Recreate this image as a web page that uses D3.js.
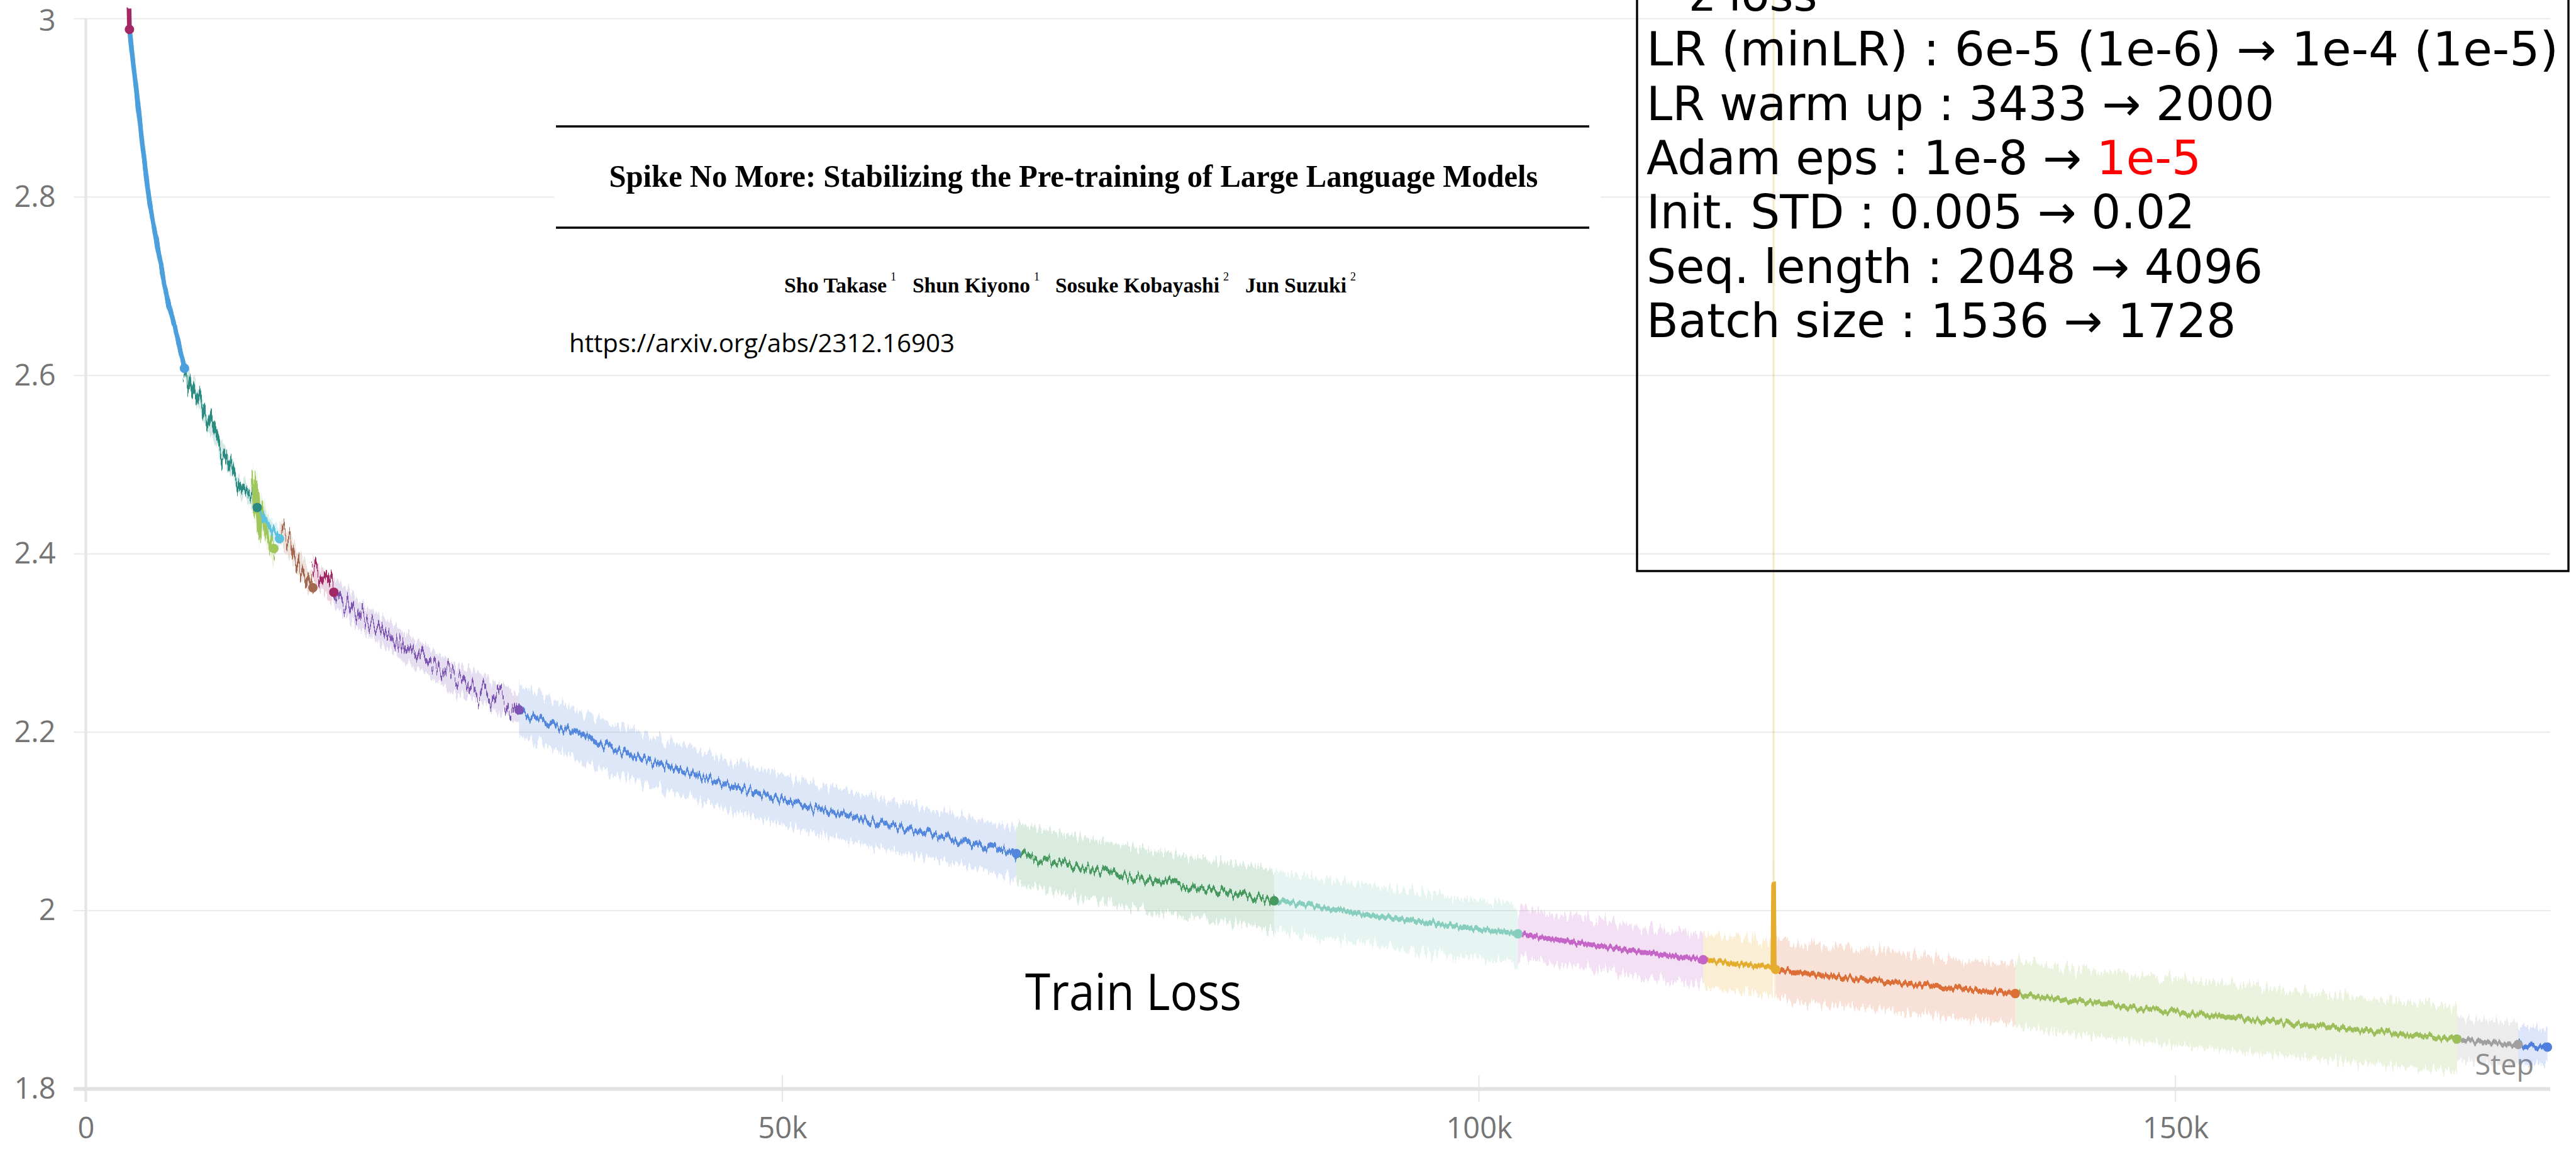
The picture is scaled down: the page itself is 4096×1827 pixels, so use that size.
<!DOCTYPE html>
<html>
<head>
<meta charset="utf-8">
<script src="https://cdn.jsdelivr.net/npm/d3@7"></script>
<style>
  body { margin: 0; background: #fff; }
  svg { display: block; }
</style>
</head>
<body>
<div id="chart"></div>
<script>
const width = 4096;
const height = 1827;

// axes
const xTicks = [0, 50, 100, 150];
const xTickLabels = ["0", "50k", "100k", "150k"];
const yTicks = [1.8, 2, 2.2, 2.4, 2.6, 2.8, 3];
const yTickLabels = ["1.8", "2", "2.2", "2.4", "2.6", "2.8", "3"];
const stepMax = 176.9; // k steps at right edge

// run segments, [step (k), smoothed train loss]
const segPoints = [
  [[3.10, 3.012], [3.13, 2.988]],
  [[3.13, 2.988], [3.2, 2.979], [3.65, 2.916], [4.1, 2.853], [4.53, 2.800], [5.12, 2.748], [5.85, 2.685], [6.43, 2.652], [7.08, 2.608]],
  [[7.08, 2.608], [7.9, 2.580], [8.78, 2.547], [9.95, 2.509], [11.1, 2.476], [12.3, 2.452]],
  [[12.0, 2.484], [12.15, 2.447], [12.3, 2.476], [12.45, 2.425], [12.6, 2.45], [13.0, 2.425], [13.5, 2.406]],
  [[12.6, 2.445], [12.73, 2.438], [13.3, 2.428], [13.9, 2.417]],
  [[13.9, 2.424], [14.6, 2.41], [15.4, 2.388], [16.3, 2.362]],
  [[16.3, 2.384], [17.0, 2.37], [17.8, 2.357]],
  [[17.8, 2.357], [20.0, 2.327], [22.9, 2.296], [25.8, 2.267], [28.75, 2.244], [31.1, 2.225]],
  [[31.1, 2.225], [36.1, 2.192], [40.8, 2.166], [46.25, 2.140], [51.7, 2.117], [57.6, 2.096], [63.4, 2.077], [66.8, 2.064]],
  [[66.8, 2.064], [71.2, 2.049], [77.1, 2.032], [85.3, 2.011]],
  [[85.3, 2.011], [89.5, 2.002], [94.0, 1.991], [98.5, 1.982], [102.8, 1.974]],
  [[102.8, 1.974], [107.0, 1.964], [111.5, 1.954], [116.1, 1.945]],
  [[116.1, 1.945], [118.6, 1.940], [121.1, 1.936], [121.15, 2.03], [121.2, 1.935], [121.3, 1.934]],
  [[121.3, 1.934], [126.0, 1.925], [132.0, 1.916], [138.5, 1.907]],
  [[138.5, 1.907], [143.1, 1.898], [150.0, 1.886], [160.0, 1.871], [170.2, 1.856]],
  [[170.2, 1.856], [172.5, 1.852], [174.6, 1.850]],
  [[174.6, 1.850], [175.6, 1.848], [176.7, 1.847]]
];
// half width of the min/max band of each segment (loss units)
const segSpread = [0.004, 0.004, 0.009, 0.02, 0.01, 0.012, 0.012, 0.016, 0.028, 0.034, 0.033, 0.028, 0.03, 0.033, 0.037, 0.024, 0.02];
// raw max of the loss spike: [step (k), from, to]
const spikeBand = [121.15, 2.03, 3.03];

const segColors = ["#a12864", "#4a9fdc", "#2a8c80", "#a0c75c", "#5cc2df", "#a46750", "#a12864", "#7d54b2",
  "#5387dd", "#479a5f", "#87cebf", "#c565c7", "#e5ad2f", "#dc6f38", "#9dbf5b", "#a0a0a0", "#4f7fdf"];
const segJag = ["jagS", "jagS", "jagL", "jagL", "jagM", "jagL", "jagL", "jagL",
  "jagM", "jagM", "jagS", "jagS", "jagS", "jagS", "jagS", "jagS", "jagS"];

const paperTitle = "Spike No More: Stabilizing the Pre-training of Large Language Models";
const authorNames = ["Sho Takase", "Shun Kiyono", "Sosuke Kobayashi", "Jun Suzuki"];
const authorAffils = ["1", "1", "2", "2"];
const paperUrl = "https://arxiv.org/abs/2312.16903";
const boxLines = [
  ["LR (minLR) : 6e-5 (1e-6) \u2192 1e-4 (1e-5)", ""],
  ["LR warm up : 3433 \u2192 2000", ""],
  ["Adam eps : 1e-8 \u2192 ", "1e-5"],
  ["Init. STD : 0.005 \u2192 0.02", ""],
  ["Seq. length : 2048 \u2192 4096", ""],
  ["Batch size : 1536 \u2192 1728", ""]
];

const svg = d3.select("#chart")
  .append("svg")
  .attr("width", width)
  .attr("height", height);

// jagged look of the noisy runs
const defs = svg.append("defs");
function jagFilter(id, freq, scale, seed) {
  const f = defs.append("filter")
    .attr("id", id)
    .attr("filterUnits", "userSpaceOnUse")
    .attr("x", 0).attr("y", 0).attr("width", width).attr("height", height)
    .attr("color-interpolation-filters", "sRGB");
  f.append("feTurbulence")
    .attr("type", "fractalNoise")
    .attr("baseFrequency", freq)
    .attr("numOctaves", 2)
    .attr("seed", seed)
    .attr("result", "noise");
  f.append("feColorMatrix")
    .attr("in", "noise")
    .attr("type", "matrix")
    .attr("values", "0 0 0 0 0.5  0 1 0 0 0  0 0 0 0 0  0 0 0 0 1")
    .attr("result", "disp");
  f.append("feDisplacementMap")
    .attr("in", "SourceGraphic")
    .attr("in2", "disp")
    .attr("scale", scale)
    .attr("xChannelSelector", "R")
    .attr("yChannelSelector", "G");
}
jagFilter("jagS", "0.22 0.004", 16, 3);
jagFilter("jagM", "0.22 0.004", 30, 5);
jagFilter("jagL", "0.2 0.004", 80, 8);
jagFilter("jagBand", "0.25 0.003", 40, 11);

const x = d3.scaleLinear()
  .domain([0, stepMax])
  .range([136.5, 4055]);

const y = d3.scaleLinear()
  .domain([1.8, 3])
  .range([1731.6, 29.7]);

// gridlines
svg.append("g")
  .selectAll("line")
  .data(yTicks.filter(d => d !== 1.8))
  .enter()
  .append("line")
  .attr("x1", 117)
  .attr("x2", x.range()[1])
  .attr("y1", d => y(d))
  .attr("y2", d => y(d))
  .attr("stroke", "#ebebeb")
  .attr("stroke-width", 2);

// y axis line
svg.append("line")
  .attr("x1", x(0)).attr("x2", x(0))
  .attr("y1", y(3)).attr("y2", 1752)
  .attr("stroke", "#e6e6e6")
  .attr("stroke-width", 4.5);

// x tick marks
svg.append("g")
  .selectAll("line")
  .data(xTicks.filter(d => d > 0))
  .enter()
  .append("line")
  .attr("x1", d => x(d)).attr("x2", d => x(d))
  .attr("y1", 1710).attr("y2", 1752)
  .attr("stroke", "#e6e6e6")
  .attr("stroke-width", 2);

// bottom axis line
svg.append("line")
  .attr("x1", 117).attr("x2", x.range()[1])
  .attr("y1", y(1.8)).attr("y2", y(1.8))
  .attr("stroke", "#e2e2e2")
  .attr("stroke-width", 6);

const yAxis = svg.append("g")
  .attr("transform", `translate(${x(0)},0)`)
  .call(d3.axisLeft(y).tickValues(yTicks).tickSize(0).tickPadding(48)
    .tickFormat((d, i) => yTickLabels[i]));
yAxis.select(".domain").remove();
yAxis.selectAll("text")
  .attr("font-family", "'Open Sans', sans-serif")
  .attr("font-size", 47)
  .attr("fill", "#747474");
// keep the top label inside the picture
yAxis.selectAll(".tick")
  .filter(d => d === 3)
  .select("text")
  .attr("y", 4);

const xAxis = svg.append("g")
  .attr("transform", `translate(0,${y(1.8)})`)
  .call(d3.axisBottom(x).tickValues(xTicks).tickSize(0).tickPadding(45)
    .tickFormat((d, i) => xTickLabels[i]));
xAxis.select(".domain").remove();
xAxis.selectAll("text")
  .attr("font-family", "'Open Sans', sans-serif")
  .attr("font-size", 47)
  .attr("fill", "#747474");

svg.append("text")
  .attr("x", 4029)
  .attr("y", 1709)
  .attr("text-anchor", "end")
  .attr("font-family", "'Open Sans', sans-serif")
  .attr("font-size", 45)
  .attr("fill", "#8a8a8a")
  .text("Step");

// pasted paper header
svg.append("rect")
  .attr("x", 881).attr("y", 150)
  .attr("width", 2545 - 881).attr("height", 577 - 150)
  .attr("fill", "#fff");

svg.append("g")
  .selectAll("line")
  .data([201, 362])
  .enter()
  .append("line")
  .attr("x1", 884).attr("x2", 2527)
  .attr("y1", d => d).attr("y2", d => d)
  .attr("stroke", "#000")
  .attr("stroke-width", 3.6);

svg.append("text")
  .attr("x", 1707)
  .attr("y", 297)
  .attr("text-anchor", "middle")
  .attr("font-family", "'Liberation Serif', 'Times New Roman', serif")
  .attr("font-weight", "bold")
  .attr("font-size", 50)
  .attr("textLength", 1477)
  .attr("lengthAdjust", "spacingAndGlyphs")
  .text(paperTitle);

// author line: name start, name width
const authorX = [1247, 1451, 1678, 1980];
const authorW = [163, 187, 261, 161];
const authorG = svg.append("g")
  .attr("font-family", "'Liberation Serif', 'Times New Roman', serif");
authorG.selectAll("text.name")
  .data(authorNames)
  .enter()
  .append("text")
  .attr("class", "name")
  .attr("x", (d, i) => authorX[i])
  .attr("y", 465)
  .attr("font-weight", "bold")
  .attr("font-size", 33)
  .attr("textLength", (d, i) => authorW[i])
  .attr("lengthAdjust", "spacingAndGlyphs")
  .text(d => d);
authorG.selectAll("text.aff")
  .data(authorAffils)
  .enter()
  .append("text")
  .attr("class", "aff")
  .attr("x", (d, i) => authorX[i] + authorW[i] + 6)
  .attr("y", 446)
  .attr("font-size", 18)
  .text(d => d);

svg.append("text")
  .attr("x", 905)
  .attr("y", 560)
  .attr("font-family", "'Open Sans', sans-serif")
  .attr("font-size", 41)
  .attr("textLength", 613)
  .attr("lengthAdjust", "spacingAndGlyphs")
  .text(paperUrl);

// bands
const band = d3.area()
  .x(d => x(d[0]));

svg.append("g")
  .attr("filter", "url(#jagBand)")
  .selectAll("path")
  .data(segPoints)
  .enter()
  .append("path")
  .attr("d", (pts, i) => band
    .y0(d => y(d[1] - segSpread[i]))
    .y1(d => y(d[1] + segSpread[i]))(pts))
  .attr("fill", (d, i) => segColors[i])
  .attr("fill-opacity", 0.2);

// raw spike max
svg.append("line")
  .attr("x1", x(spikeBand[0])).attr("x2", x(spikeBand[0]))
  .attr("y1", y(spikeBand[1])).attr("y2", y(spikeBand[2]))
  .attr("stroke", segColors[12])
  .attr("stroke-opacity", 0.3)
  .attr("stroke-width", 3);

const line = d3.line()
  .x(d => x(d[0]))
  .y(d => y(d[1]));

svg.append("g")
  .selectAll("path")
  .data(segPoints)
  .enter()
  .append("path")
  .attr("d", line)
  .attr("fill", "none")
  .attr("stroke", (d, i) => segColors[i])
  .attr("stroke-width", 7.5)
  .attr("stroke-linejoin", "round")
  .attr("filter", (d, i) => `url(#${segJag[i]})`);

svg.append("g")
  .selectAll("circle")
  .data(segPoints)
  .enter()
  .append("circle")
  .attr("cx", d => x(d[d.length - 1][0]))
  .attr("cy", d => y(d[d.length - 1][1]))
  .attr("r", 7.5)
  .attr("fill", (d, i) => segColors[i]);

svg.append("text")
  .attr("x", 1630)
  .attr("y", 1606)
  .attr("font-family", "'Open Sans', sans-serif")
  .attr("font-size", 80)
  .attr("textLength", 344)
  .attr("lengthAdjust", "spacingAndGlyphs")
  .text("Train Loss");

// settings box
svg.append("rect")
  .attr("x", 2603).attr("y", -10)
  .attr("width", 4084 - 2603).attr("height", 908 + 10)
  .attr("fill", "none")
  .attr("stroke", "#000")
  .attr("stroke-width", 3.4);

svg.append("text")
  .attr("x", 2687)
  .attr("y", 17)
  .attr("font-family", "'DejaVu Sans', sans-serif")
  .attr("font-size", 73)
  .text("z loss");

svg.append("g")
  .selectAll("text")
  .data(boxLines)
  .enter()
  .append("text")
  .attr("x", 2618)
  .attr("y", (d, i) => 104.3 + i * 86.3)
  .attr("font-family", "'DejaVu Sans', sans-serif")
  .attr("font-size", 74)
  .each(function (d, i) {
    const t = d3.select(this);
    t.append("tspan").text(d[0]);
    if (d[1]) t.append("tspan").attr("fill", "#ff0000").text(d[1]);
    if (i === 0) t.attr("textLength", 1450).attr("lengthAdjust", "spacingAndGlyphs");
  });
</script>
</body>
</html>
